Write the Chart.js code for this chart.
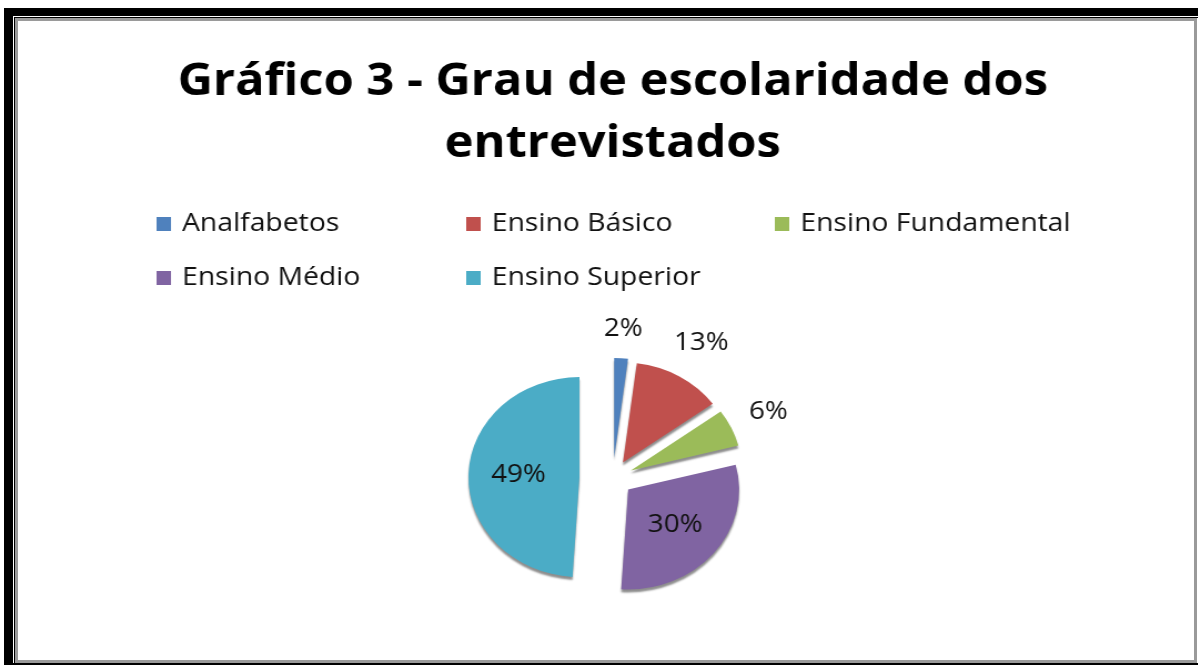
<!DOCTYPE html>
<html>
<head>
<meta charset="utf-8">
<script src="https://cdn.jsdelivr.net/npm/chart.js@4/dist/chart.umd.min.js"></script>
<style>
  html, body { margin: 0; padding: 0; background: #fff; width: 1198px; height: 665px; overflow: hidden; }
  .outer { position: absolute; left: 4px; top: 8px; right: 0; bottom: 0;
           border-left: 9px solid #000; border-top: 8px solid #000; border-bottom: 2px solid #000; }
  .line { position: absolute; left: 1px; top: 1px; right: 0; bottom: 0;
          border-left: 1px solid #000; border-top: 1px solid #000; }
  .gray { position: absolute; left: 0; top: 0; right: 1px; bottom: 0; border: 3px solid #9a9a9a; background: #fff; }
  #wrap { position: absolute; left: 20px; top: 20px; width: 1057px; height: 638px;
          transform: scaleX(1.11); transform-origin: 0 0; }
</style>
</head>
<body>
<div class="outer"><div class="line"><div class="gray"></div></div></div>
<div id="wrap"><canvas id="grafico" width="1057" height="638"></canvas></div>
<script>
var categorias = ["Analfabetos", "Ensino Básico", "Ensino Fundamental", "Ensino Médio", "Ensino Superior"];
var percentuais = [2, 13, 6, 30, 49];
var cores = ["#4F81BD", "#C0504D", "#9BBB59", "#8064A2", "#4BACC6"];
// deslocamento de cada fatia (pizza explodida), em px
var destaque = [20, 18, 18, 18, 30];

// desenha as fatias deslocadas + sombra (efeito 3D)
var explodir = {
  id: "explodir",
  beforeDatasetDraw: function(chart, args){
    var ctx = chart.ctx;
    ctx.save();
    ctx.shadowColor = "rgba(0,0,0,0.45)";
    ctx.shadowOffsetY = 3;
    ctx.shadowBlur = 2;
    args.meta.data.forEach(function(arc, i){
      var mid = (arc.startAngle + arc.endAngle) / 2;
      ctx.save();
      ctx.translate(Math.cos(mid) * destaque[i], Math.sin(mid) * destaque[i]);
      arc.draw(ctx, chart.chartArea);
      ctx.restore();
    });
    ctx.restore();
    return false;
  }
};

// legenda em grade (3 colunas) como no original
var legendaGrade = {
  id: "legendaGrade",
  afterDraw: function(chart){
    var ctx = chart.ctx;
    var colX = [123, 402, 680];
    var rowY = [203, 257];
    ctx.save();
    ctx.font = "25.5px 'Open Sans'";
    ctx.textBaseline = "middle";
    ctx.textAlign = "left";
    chart.data.labels.forEach(function(lbl, i){
      var x = colX[i % 3], y = rowY[Math.floor(i / 3)];
      ctx.fillStyle = chart.data.datasets[0].backgroundColor[i];
      ctx.fillRect(x, y - 6, 13, 14);
      ctx.fillStyle = "#111";
      ctx.fillText(lbl, x + 23, y + 1);
    });
    ctx.restore();
  }
};

// rótulos de porcentagem
var rotulos = {
  id: "rotulos",
  afterDatasetsDraw: function(chart){
    var ctx = chart.ctx;
    var ds = chart.data.datasets[0];
    var total = ds.data.reduce(function(a, b){ return a + b; }, 0);
    ctx.save();
    ctx.font = "25px 'Open Sans'";
    ctx.fillStyle = "#111";
    ctx.textAlign = "center";
    ctx.textBaseline = "middle";
    chart.getDatasetMeta(0).data.forEach(function(arc, i){
      var mid = (arc.startAngle + arc.endAngle) / 2;
      var c = Math.cos(mid), s = Math.sin(mid);
      var cx = arc.x + c * destaque[i], cy = arc.y + s * destaque[i];
      var pct = Math.round(ds.data[i] / total * 100);
      var txt = pct + "%";
      var d;
      if (pct > 20) {
        d = arc.outerRadius * 0.55;
      } else {
        var hw = ctx.measureText(txt).width / 2, hh = 12;
        d = arc.outerRadius + 16 + Math.abs(c) * hw + Math.abs(s) * hh;
      }
      ctx.fillText(txt, cx + c * d, cy + s * d);
    });
    ctx.restore();
  }
};

var grafico = new Chart(document.getElementById("grafico"), {
  type: "pie",
  data: {
    labels: categorias,
    datasets: [{
      data: percentuais,
      backgroundColor: cores,
      borderWidth: 0
    }]
  },
  options: {
    responsive: false,
    animation: false,
    devicePixelRatio: 1,
    radius: 100,
    layout: { padding: { left: 11, right: 0, top: 0, bottom: 12 } },
    plugins: {
      title: {
        display: true,
        text: ["Gráfico 3 - Grau de escolaridade dos", "entrevistados"],
        color: "#000",
        font: { family: "'Open Sans'", size: 44, weight: "bold", lineHeight: 1.41 },
        padding: { top: 31, bottom: 135 }
      },
      legend: { display: false },
      tooltip: { enabled: false }
    }
  },
  plugins: [explodir, rotulos, legendaGrade]
});
</script>
</body>
</html>
